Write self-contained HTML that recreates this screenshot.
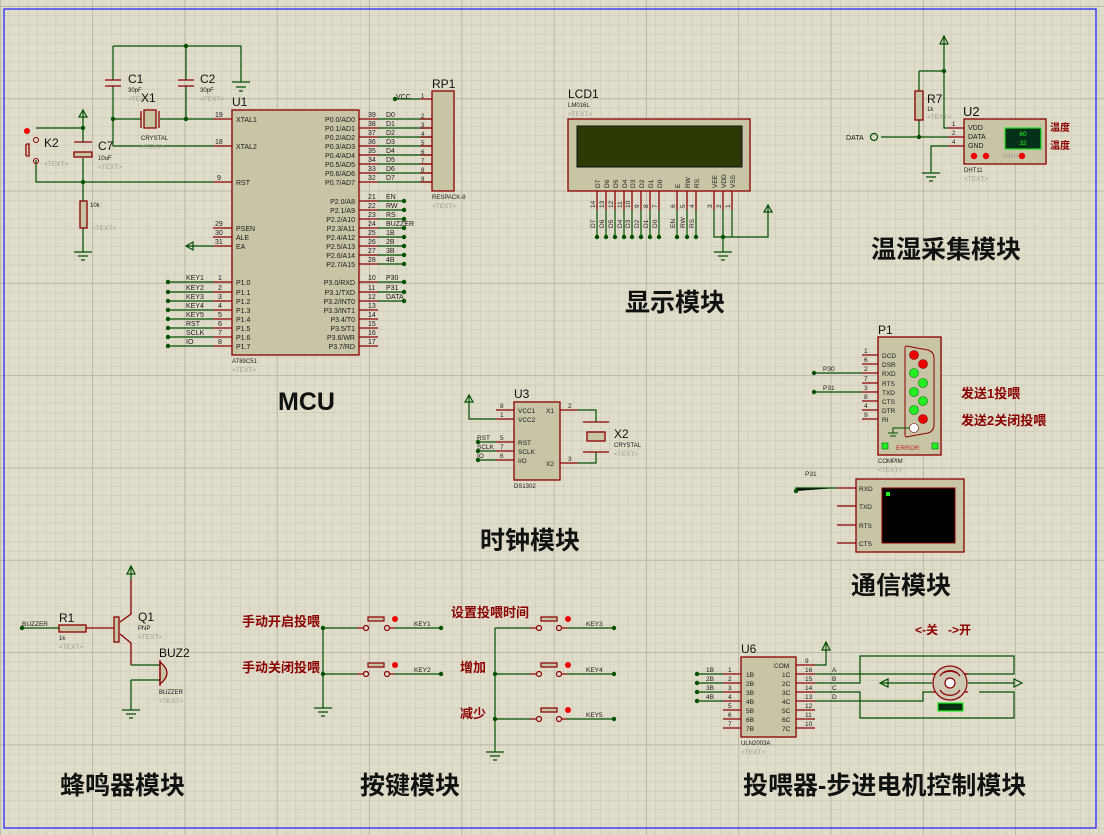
<!DOCTYPE html>
<html><head><meta charset="utf-8"><style>
html,body{margin:0;padding:0;background:#dfdcc9;}
svg{display:block}
.s{font-family:"Liberation Sans",sans-serif;font-size:7px;fill:#1a1a1a}
.t{font-family:"Liberation Sans",sans-serif;font-size:6.5px;fill:#a09e90}
.r{font-family:"Liberation Sans",sans-serif;font-size:12px;fill:#111}
.cn{font-family:"Liberation Sans","Noto Sans CJK SC",sans-serif;font-weight:bold;fill:#111;font-size:25px}
.rc{font-family:"Liberation Sans","Noto Sans CJK SC",sans-serif;font-weight:bold;fill:#8b0000;font-size:13px}
</style></head><body>
<svg width="1104" height="835" viewBox="0 0 1104 835" xmlns="http://www.w3.org/2000/svg">
<defs>
<pattern id="g" x="0.7" y="6.85" width="9.23" height="9.23" patternUnits="userSpaceOnUse"><path d="M9.23 0V9.23H0" fill="none" stroke="#c6c3b3" stroke-width="1"/></pattern>
<pattern id="G" x="0.7" y="6.85" width="92.3" height="92.3" patternUnits="userSpaceOnUse"><path d="M92.3 0V92.3H0" fill="none" stroke="#b3b0a2" stroke-width="1.5"/></pattern>
</defs>
<rect width="1104" height="835" fill="#dfdcc9"/>
<rect width="1104" height="835" fill="url(#g)"/>
<rect width="1104" height="835" fill="url(#G)"/>
<rect x="4" y="9" width="1092" height="819" fill="none" stroke="#1a1aff" stroke-width="1.2"/>

<!-- ===== MCU ===== -->
<g stroke="#005000" stroke-width="1.2" fill="none">
<path d="M113 46H241V82M113 46V80M113 86V146H213M186 46V80M186 86V119M113 119H141M160 119H213"/>
<path d="M36 128H83V110M83 128V142M83 158V201M36 160V182H213M83 228V252"/>
<path d="M186 246H213"/>
<path d="M395 99H420"/>
</g>
<g fill="#005000"><circle cx="186" cy="46" r="2.2"/><circle cx="113" cy="119" r="2.2"/><circle cx="186" cy="119" r="2.2"/><circle cx="83" cy="128" r="2.2"/><circle cx="83" cy="182" r="2.2"/><circle cx="395" cy="99" r="2.2"/></g>
<g stroke="#005000" stroke-width="1.2"><path d="M232 82H250M236 87H246M239 91H243M74 252H92M78 256H88M81 260H85"/></g>
<g stroke="#8b0000" stroke-width="1.3" fill="none">
<path d="M105 80H121M105 86H121M178 80H194M178 86H194"/>
<rect x="144" y="110" width="12" height="18" fill="#c8c4a6"/><path d="M141 111V128M159 111V128"/>
<rect x="80" y="201" width="7" height="27" fill="#c8c4a6"/>
<path d="M74 142H92"/><rect x="74" y="152" width="18" height="5" fill="#c8c4a6"/>
<path d="M26 144V156M26 144H29V156H26"/>
</g>
<circle cx="36" cy="140" r="2.5" fill="none" stroke="#8b0000"/><circle cx="36" cy="161" r="2.5" fill="none" stroke="#8b0000"/>
<circle cx="27" cy="131" r="3" fill="#e00"/>
<path d="M83 110L79 117H87Z M186 246L193 242V250Z" fill="none" stroke="#005000" stroke-width="1.2"/>
<text x="128" y="83" class="r">C1</text><text x="128" y="92" class="s" style="font-size:6px">30pF</text><text x="128" y="101" class="t">&lt;TEXT&gt;</text>
<text x="200" y="83" class="r">C2</text><text x="200" y="92" class="s" style="font-size:6px">30pF</text><text x="200" y="101" class="t">&lt;TEXT&gt;</text>
<text x="141" y="102" class="r">X1</text><text x="141" y="140" class="s" style="font-size:6px">CRYSTAL</text><text x="141" y="149" class="t">&lt;TEXT&gt;</text>
<text x="44" y="147" class="r">K2</text><text x="44" y="166" class="t">&lt;TEXT&gt;</text>
<text x="98" y="150" class="r">C7</text><text x="98" y="160" class="s" style="font-size:6px">10uF</text><text x="98" y="169" class="t">&lt;TEXT&gt;</text>
<text x="90" y="207" class="s" style="font-size:6px">10k</text><text x="92" y="230" class="t">&lt;TEXT&gt;</text>

<rect x="232" y="110" width="127" height="245" fill="#c8c4a6" stroke="#8b0000" stroke-width="1.3"/>
<text x="232" y="106" class="r">U1</text><text x="232" y="363" class="s" style="font-size:6px">AT89C51</text><text x="232" y="372" class="t">&lt;TEXT&gt;</text>
<g stroke="#8b0000" stroke-width="1.3">
<path d="M213 119H232M213 146H232M213 182H232M213 228H232M213 237H232M213 246H232"/>
<path d="M213 282H232M213 292H232M213 301H232M213 310H232M213 319H232M213 328H232M213 337H232M213 346H232"/>
<path d="M359 119H378M359 128H378M359 137H378M359 146H378M359 155H378M359 164H378M359 173H378M359 182H378"/>
<path d="M359 201H378M359 210H378M359 219H378M359 228H378M359 237H378M359 246H378M359 255H378M359 264H378"/>
<path d="M359 282H378M359 292H378M359 301H378M359 310H378M359 319H378M359 328H378M359 337H378M359 346H378"/>
</g>
<g class="s">
<text x="236" y="122">XTAL1</text><text x="236" y="149">XTAL2</text><text x="236" y="185">RST</text>
<text x="236" y="231">PSEN</text><text x="236" y="240">ALE</text><text x="236" y="249">EA</text>
<text x="236" y="285">P1.0</text><text x="236" y="295">P1.1</text><text x="236" y="304">P1.2</text><text x="236" y="313">P1.3</text><text x="236" y="322">P1.4</text><text x="236" y="331">P1.5</text><text x="236" y="340">P1.6</text><text x="236" y="349">P1.7</text>
<text x="215" y="117">19</text><text x="215" y="144">18</text><text x="217" y="180">9</text><text x="215" y="226">29</text><text x="215" y="235">30</text><text x="215" y="244">31</text>
<text x="218" y="280">1</text><text x="218" y="290">2</text><text x="218" y="299">3</text><text x="218" y="308">4</text><text x="218" y="317">5</text><text x="218" y="326">6</text><text x="218" y="335">7</text><text x="218" y="344">8</text>
</g>
<g class="s" text-anchor="end">
<text x="355" y="122">P0.0/AD0</text><text x="355" y="131">P0.1/AD1</text><text x="355" y="140">P0.2/AD2</text><text x="355" y="149">P0.3/AD3</text><text x="355" y="158">P0.4/AD4</text><text x="355" y="167">P0.5/AD5</text><text x="355" y="176">P0.6/AD6</text><text x="355" y="185">P0.7/AD7</text>
<text x="355" y="204">P2.0/A8</text><text x="355" y="213">P2.1/A9</text><text x="355" y="222">P2.2/A10</text><text x="355" y="231">P2.3/A11</text><text x="355" y="240">P2.4/A12</text><text x="355" y="249">P2.5/A13</text><text x="355" y="258">P2.6/A14</text><text x="355" y="267">P2.7/A15</text>
<text x="355" y="285">P3.0/RXD</text><text x="355" y="295">P3.1/TXD</text><text x="355" y="304">P3.2/INT0</text><text x="355" y="313">P3.3/INT1</text><text x="355" y="322">P3.4/T0</text><text x="355" y="331">P3.5/T1</text><text x="355" y="340">P3.6/WR</text><text x="355" y="349">P3.7/RD</text>
</g>
<g class="s">
<text x="368" y="117">39</text><text x="368" y="126">38</text><text x="368" y="135">37</text><text x="368" y="144">36</text><text x="368" y="153">35</text><text x="368" y="162">34</text><text x="368" y="171">33</text><text x="368" y="180">32</text>
<text x="368" y="199">21</text><text x="368" y="208">22</text><text x="368" y="217">23</text><text x="368" y="226">24</text><text x="368" y="235">25</text><text x="368" y="244">26</text><text x="368" y="253">27</text><text x="368" y="262">28</text>
<text x="368" y="280">10</text><text x="368" y="290">11</text><text x="368" y="299">12</text><text x="368" y="308">13</text><text x="368" y="317">14</text><text x="368" y="326">15</text><text x="368" y="335">16</text><text x="368" y="344">17</text>
<text x="386" y="117">D0</text><text x="386" y="126">D1</text><text x="386" y="135">D2</text><text x="386" y="144">D3</text><text x="386" y="153">D4</text><text x="386" y="162">D5</text><text x="386" y="171">D6</text><text x="386" y="180">D7</text>
<text x="386" y="199">EN</text><text x="386" y="208">RW</text><text x="386" y="217">RS</text><text x="386" y="226">BUZZER</text><text x="386" y="235">1B</text><text x="386" y="244">2B</text><text x="386" y="253">3B</text><text x="386" y="262">4B</text>
<text x="386" y="280">P30</text><text x="386" y="290">P31</text><text x="386" y="299">DATA</text>
<text x="186" y="280">KEY1</text><text x="186" y="290">KEY2</text><text x="186" y="299">KEY3</text><text x="186" y="308">KEY4</text><text x="186" y="317">KEY5</text><text x="186" y="326">RST</text><text x="186" y="335">SCLK</text><text x="186" y="344">IO</text>
<text x="396" y="99">VCC</text>
</g>
<g stroke="#005000" stroke-width="1.2">
<path d="M378 119H432M378 128H432M378 137H432M378 146H432M378 155H432M378 164H432M378 173H432M378 182H432"/>
<path d="M378 201H404M378 210H404M378 219H404M378 228H404M378 237H404M378 246H404M378 255H404M378 264H404M378 282H404M378 292H404M378 301H404"/>
<path d="M168 282H213M168 292H213M168 301H213M168 310H213M168 319H213M168 328H213M168 337H213M168 346H213"/>
</g>
<g fill="#005000">
<circle cx="404" cy="201" r="2.2"/><circle cx="404" cy="210" r="2.2"/><circle cx="404" cy="219" r="2.2"/><circle cx="404" cy="228" r="2.2"/><circle cx="404" cy="237" r="2.2"/><circle cx="404" cy="246" r="2.2"/><circle cx="404" cy="255" r="2.2"/><circle cx="404" cy="264" r="2.2"/><circle cx="404" cy="282" r="2.2"/><circle cx="404" cy="292" r="2.2"/><circle cx="404" cy="301" r="2.2"/>
<circle cx="168" cy="282" r="2.2"/><circle cx="168" cy="292" r="2.2"/><circle cx="168" cy="301" r="2.2"/><circle cx="168" cy="310" r="2.2"/><circle cx="168" cy="319" r="2.2"/><circle cx="168" cy="328" r="2.2"/><circle cx="168" cy="337" r="2.2"/><circle cx="168" cy="346" r="2.2"/>
</g>
<g stroke="#8b0000" stroke-width="1.3"><path d="M420 99H432M420 119H432M420 128H432M420 137H432M420 146H432M420 155H432M420 164H432M420 173H432M420 182H432"/></g>
<rect x="432" y="91" width="22" height="100" fill="#c8c4a6" stroke="#8b0000" stroke-width="1.3"/>
<text x="432" y="88" class="r">RP1</text><text x="432" y="199" class="s" style="font-size:6px">RESPACK-8</text><text x="432" y="208" class="t">&lt;TEXT&gt;</text>
<g class="s" style="font-size:6px"><text x="421" y="98">1</text><text x="421" y="118">2</text><text x="421" y="127">3</text><text x="421" y="136">4</text><text x="421" y="145">5</text><text x="421" y="154">6</text><text x="421" y="163">7</text><text x="421" y="172">8</text><text x="421" y="181">9</text></g>
<text x="278" y="410" class="cn" style="font-size:25px">MCU</text>

<!-- ===== LCD ===== -->
<rect x="568" y="119" width="182" height="72" fill="#c8c4a6" stroke="#8b0000" stroke-width="1.3"/>
<rect x="577" y="126" width="165" height="41" fill="#2c3a05" stroke="#111" stroke-width="1"/>
<text x="568" y="98" class="r">LCD1</text><text x="568" y="107" class="s" style="font-size:6px">LM016L</text><text x="568" y="116" class="t">&lt;TEXT&gt;</text>
<g stroke="#8b0000" stroke-width="1.3"><path d="M597 191V210M606 191V210M615 191V210M624 191V210M632 191V210M641 191V210M650 191V210M659 191V210M677 191V210M687 191V210M696 191V210M714 191V210M723 191V210M732 191V210"/></g>
<g stroke="#005000" stroke-width="1.2" fill="none"><path d="M597 210V237M606 210V237M615 210V237M624 210V237M632 210V237M641 210V237M650 210V237M659 210V237M677 210V237M687 210V237M696 210V237M714 210V237H768V205M723 210V252M732 210V237"/><path d="M768 205L764 212H772Z"/><path d="M714 252H732M718 256H728M721 260H725"/></g>
<g fill="#005000"><circle cx="597" cy="237" r="2.2"/><circle cx="606" cy="237" r="2.2"/><circle cx="615" cy="237" r="2.2"/><circle cx="624" cy="237" r="2.2"/><circle cx="632" cy="237" r="2.2"/><circle cx="641" cy="237" r="2.2"/><circle cx="650" cy="237" r="2.2"/><circle cx="659" cy="237" r="2.2"/><circle cx="677" cy="237" r="2.2"/><circle cx="687" cy="237" r="2.2"/><circle cx="696" cy="237" r="2.2"/><circle cx="723" cy="237" r="2.2"/></g>
<g class="s" style="font-size:6.5px">
<text transform="translate(600,188) rotate(-90)">D7</text><text transform="translate(609,188) rotate(-90)">D6</text><text transform="translate(618,188) rotate(-90)">D5</text><text transform="translate(627,188) rotate(-90)">D4</text><text transform="translate(635,188) rotate(-90)">D3</text><text transform="translate(644,188) rotate(-90)">D2</text><text transform="translate(653,188) rotate(-90)">D1</text><text transform="translate(662,188) rotate(-90)">D0</text><text transform="translate(680,188) rotate(-90)">E</text><text transform="translate(690,188) rotate(-90)">RW</text><text transform="translate(699,188) rotate(-90)">RS</text><text transform="translate(717,188) rotate(-90)">VEE</text><text transform="translate(726,188) rotate(-90)">VDD</text><text transform="translate(735,188) rotate(-90)">VSS</text>
<text transform="translate(595,208) rotate(-90)">14</text><text transform="translate(604,208) rotate(-90)">13</text><text transform="translate(613,208) rotate(-90)">12</text><text transform="translate(622,208) rotate(-90)">11</text><text transform="translate(630,208) rotate(-90)">10</text><text transform="translate(639,208) rotate(-90)">9</text><text transform="translate(648,208) rotate(-90)">8</text><text transform="translate(657,208) rotate(-90)">7</text><text transform="translate(675,208) rotate(-90)">6</text><text transform="translate(685,208) rotate(-90)">5</text><text transform="translate(694,208) rotate(-90)">4</text><text transform="translate(712,208) rotate(-90)">3</text><text transform="translate(721,208) rotate(-90)">2</text><text transform="translate(730,208) rotate(-90)">1</text>
<text transform="translate(595,228) rotate(-90)">D7</text><text transform="translate(604,228) rotate(-90)">D6</text><text transform="translate(613,228) rotate(-90)">D5</text><text transform="translate(622,228) rotate(-90)">D4</text><text transform="translate(630,228) rotate(-90)">D3</text><text transform="translate(639,228) rotate(-90)">D2</text><text transform="translate(648,228) rotate(-90)">D1</text><text transform="translate(657,228) rotate(-90)">D0</text><text transform="translate(675,228) rotate(-90)">EN</text><text transform="translate(685,228) rotate(-90)">RW</text><text transform="translate(694,228) rotate(-90)">RS</text>
</g>
<text x="625" y="311" class="cn">显示模块</text>

<!-- ===== DHT11 ===== -->
<g stroke="#005000" stroke-width="1.2" fill="none">
<path d="M944 36V128H948M919 71H944M919 71V91M919 120V137M881 137H948M948 146H931V173M922 173H940M926 177H936M929 181H933"/>
<path d="M944 36L940 44H948Z"/>
</g>
<circle cx="944" cy="71" r="2.2" fill="#005000"/><circle cx="919" cy="137" r="2.2" fill="#005000"/>
<circle cx="874" cy="137" r="3.5" fill="none" stroke="#005000" stroke-width="1.2"/>
<text x="846" y="140" class="s">DATA</text>
<rect x="915" y="91" width="8" height="29" fill="#c8c4a6" stroke="#8b0000" stroke-width="1.3"/>
<text x="927" y="103" class="r">R7</text><text x="927" y="111" class="s" style="font-size:6px">1k</text><text x="927" y="119" class="t">&lt;TEXT&gt;</text>
<g stroke="#8b0000" stroke-width="1.3"><path d="M948 128H964M948 137H964M948 146H964"/></g>
<rect x="964" y="119" width="82" height="45" fill="#c8c4a6" stroke="#8b0000" stroke-width="1.3"/>
<rect x="1005" y="128" width="36" height="21" fill="#04301a" stroke="#22dd22" stroke-width="1.2"/>
<text x="1023" y="136" class="s" text-anchor="middle" style="fill:#2f2;font-size:6.5px">60</text><text x="1023" y="145" class="s" text-anchor="middle" style="fill:#2f2;font-size:6.5px">32</text>
<text x="968" y="130" class="s">VDD</text><text x="968" y="139" class="s">DATA</text><text x="968" y="148" class="s">GND</text>
<text x="952" y="126" class="s" style="font-size:6px">1</text><text x="952" y="135" class="s" style="font-size:6px">2</text><text x="952" y="144" class="s" style="font-size:6px">4</text>
<circle cx="974" cy="156" r="3.2" fill="#e00"/><circle cx="986" cy="156" r="3.2" fill="#e00"/><circle cx="1022" cy="156" r="3.2" fill="#e00"/>
<text x="1003" y="158" class="t">%RH</text>
<text x="964" y="172" class="s" style="font-size:6px">DHT11</text><text x="964" y="181" class="t">&lt;TEXT&gt;</text>
<text x="963" y="116" class="r" style="font-size:13px">U2</text>
<text x="1050" y="131" class="rc" style="font-size:10px">温度</text><text x="1050" y="149" class="rc" style="font-size:10px">温度</text>
<text x="871" y="258" class="cn">温湿采集模块</text>

<!-- ===== COMPIM ===== -->
<text x="878" y="334" class="r">P1</text>
<g stroke="#8b0000" stroke-width="1.3"><path d="M862 355H878M862 364H878M862 373H878M862 383H878M862 392H878M862 401H878M862 410H878M862 419H878"/></g>
<g stroke="#005000" stroke-width="1.2"><path d="M814 373H862M814 392H862"/></g>
<circle cx="814" cy="373" r="2.2" fill="#005000"/><circle cx="814" cy="392" r="2.2" fill="#005000"/>
<text x="823" y="371" class="s" style="font-size:6.5px">P30</text><text x="823" y="390" class="s" style="font-size:6.5px">P31</text>
<rect x="878" y="337" width="63" height="118" fill="#c8c4a6" stroke="#8b0000" stroke-width="1.3"/>
<path d="M906 346L928 350Q934 352 934 358V425Q934 431 928 433L906 437Q905 437 905 434V349Q905 346 906 346Z" fill="none" stroke="#8b0000" stroke-width="1"/>
<g class="s" style="font-size:6.5px"><text x="882" y="358">DCD</text><text x="882" y="367">DSR</text><text x="882" y="376">RXD</text><text x="882" y="386">RTS</text><text x="882" y="395">TXD</text><text x="882" y="404">CTS</text><text x="882" y="413">DTR</text><text x="882" y="422">RI</text>
<text x="864" y="353">1</text><text x="864" y="362">6</text><text x="864" y="371">2</text><text x="864" y="381">7</text><text x="864" y="390">3</text><text x="864" y="399">8</text><text x="864" y="408">4</text><text x="864" y="417">9</text></g>
<circle cx="914" cy="355" r="4.5" fill="#e00" stroke="#700" stroke-width=".6"/><circle cx="923" cy="364" r="4.5" fill="#e00" stroke="#700" stroke-width=".6"/>
<circle cx="914" cy="373" r="4.5" fill="#2e2" stroke="#070" stroke-width=".6"/><circle cx="923" cy="383" r="4.5" fill="#2e2" stroke="#070" stroke-width=".6"/>
<circle cx="914" cy="392" r="4.5" fill="#2e2" stroke="#070" stroke-width=".6"/><circle cx="923" cy="401" r="4.5" fill="#2e2" stroke="#070" stroke-width=".6"/>
<circle cx="914" cy="410" r="4.5" fill="#2e2" stroke="#070" stroke-width=".6"/><circle cx="923" cy="419" r="4.5" fill="#e00" stroke="#700" stroke-width=".6"/>
<circle cx="914" cy="428" r="4.5" fill="#fff" stroke="#700" stroke-width=".6"/>
<path d="M910 428H893V433M888 433H898M890 436H896" stroke="#005000" fill="none"/>
<rect x="882" y="443" width="6" height="6" fill="#2e2" stroke="#070" stroke-width=".6"/><rect x="932" y="443" width="6" height="6" fill="#2e2" stroke="#070" stroke-width=".6"/>
<text x="896" y="450" class="s" style="fill:#b22;font-size:6.5px">ERROR</text>
<text x="878" y="463" class="s" style="font-size:6px">COMPIM</text><text x="878" y="472" class="t">&lt;TEXT&gt;</text>
<text x="961" y="398" class="rc">发送1投喂</text><text x="961" y="425" class="rc">发送2关闭投喂</text>

<!-- ===== Virtual terminal ===== -->
<text x="805" y="476" class="s" style="font-size:6.5px">P31</text>
<g stroke="#005000" stroke-width="1.2"><path d="M796 491V488H837"/></g><circle cx="796" cy="491" r="2.2" fill="#005000"/>
<g stroke="#8b0000" stroke-width="1.3"><path d="M837 488H856M837 506H856M837 525H856M837 543H856"/></g>
<rect x="856" y="479" width="108" height="73" fill="#c8c4a6" stroke="#8b0000" stroke-width="1.3"/>
<rect x="882" y="488" width="73" height="55" fill="#000" stroke="#8b0000" stroke-width="1"/>
<rect x="886" y="492" width="4" height="4" fill="#2e2"/>
<g class="s" style="font-size:6.5px"><text x="859" y="491">RXD</text><text x="859" y="509">TXD</text><text x="859" y="528">RTS</text><text x="859" y="546">CTS</text></g>
<text x="851" y="594" class="cn">通信模块</text>

<!-- ===== DS1302 ===== -->
<text x="514" y="398" class="r">U3</text>
<g stroke="#005000" stroke-width="1.2" fill="none"><path d="M469 395V419H496M469 395L465 402H473Z M478 442H496M478 451H496M478 460H496 M578 410H596V422M578 463H596V452"/></g>
<circle cx="478" cy="442" r="2.2" fill="#005000"/><circle cx="478" cy="451" r="2.2" fill="#005000"/><circle cx="478" cy="460" r="2.2" fill="#005000"/>
<g stroke="#8b0000" stroke-width="1.3"><path d="M496 410H514M496 419H514M496 442H514M496 451H514M496 460H514M560 410H578M560 463H578M583 422H609M583 452H609"/></g>
<rect x="587" y="432" width="18" height="9" fill="#c8c4a6" stroke="#8b0000" stroke-width="1.3"/>
<rect x="514" y="402" width="46" height="78" fill="#c8c4a6" stroke="#8b0000" stroke-width="1.3"/>
<g class="s" style="font-size:6.5px"><text x="518" y="413">VCC1</text><text x="518" y="422">VCC2</text><text x="518" y="445">RST</text><text x="518" y="454">SCLK</text><text x="518" y="463">I/O</text><text x="546" y="413">X1</text><text x="546" y="466">X2</text>
<text x="500" y="408">8</text><text x="500" y="417">1</text><text x="500" y="440">5</text><text x="500" y="449">7</text><text x="500" y="458">6</text><text x="568" y="408">2</text><text x="568" y="461">3</text>
<text x="477" y="440">RST</text><text x="477" y="449">SCLK</text><text x="477" y="458">IO</text></g>
<text x="514" y="488" class="s" style="font-size:6px">DS1302</text>
<text x="614" y="438" class="r">X2</text><text x="614" y="447" class="s" style="font-size:6px">CRYSTAL</text><text x="614" y="456" class="t">&lt;TEXT&gt;</text>
<text x="480" y="549" class="cn">时钟模块</text>

<!-- ===== Buzzer ===== -->
<g stroke="#005000" stroke-width="1.2" fill="none"><path d="M22 628H59M131 566V580M131 566L127 574H135Z M131 665H160M131 680H160M131 680V710M122 710H140M126 714H136M129 718H133"/></g>
<circle cx="22" cy="628" r="2.2" fill="#005000"/>
<text x="22" y="626" class="s" style="font-size:6.5px">BUZZER</text>
<g stroke="#8b0000" stroke-width="1.3" fill="none"><path d="M86 628H114M120 622L131 614V580M120 634L131 643V665"/><rect x="59" y="625" width="27" height="7" fill="#c8c4a6"/><rect x="114" y="617" width="5" height="25" fill="#c8c4a6"/><path d="M160 662V684Q174 673 160 662Z" fill="#c8c4a6"/><path d="M160 660V686"/></g>
<text x="59" y="622" class="r">R1</text><text x="59" y="640" class="s" style="font-size:6px">1k</text><text x="59" y="649" class="t">&lt;TEXT&gt;</text>
<text x="138" y="621" class="r">Q1</text><text x="138" y="630" class="s" style="font-size:6px">PNP</text><text x="138" y="639" class="t">&lt;TEXT&gt;</text>
<text x="159" y="657" class="r">BUZ2</text><text x="159" y="694" class="s" style="font-size:6px">BUZZER</text><text x="159" y="703" class="t">&lt;TEXT&gt;</text>
<text x="60" y="794" class="cn">蜂鸣器模块</text>

<!-- ===== Keys ===== -->
<g stroke="#005000" stroke-width="1.2" fill="none">
<path d="M323 628V708M314 708H332M318 712H328M321 716H325 M323 628H357M395 628H441M323 674H357M395 674H441"/>
<path d="M495 628V752M486 752H504M490 756H500M493 760H497 M495 628H530M567 628H614M495 674H530M567 674H614M495 719H530M567 719H614"/>
</g>
<g fill="#005000"><circle cx="323" cy="628" r="2.2"/><circle cx="323" cy="674" r="2.2"/><circle cx="441" cy="628" r="2.2"/><circle cx="441" cy="674" r="2.2"/><circle cx="495" cy="674" r="2.2"/><circle cx="495" cy="719" r="2.2"/><circle cx="614" cy="628" r="2.2"/><circle cx="614" cy="674" r="2.2"/><circle cx="614" cy="719" r="2.2"/></g>
<g stroke="#8b0000" stroke-width="1.2" fill="#c8c4a6">
<path d="M357 628H363M389 628H395M357 674H363M389 674H395M530 628H536M561 628H567M530 674H536M561 674H567M530 719H536M561 719H567" fill="none"/>
<circle cx="366" cy="628" r="2.5" fill="none"/><circle cx="387" cy="628" r="2.5" fill="none"/><path d="M368 621V617H384V621Z"/>
<circle cx="366" cy="674" r="2.5" fill="none"/><circle cx="387" cy="674" r="2.5" fill="none"/><path d="M368 667V663H384V667Z"/>
<circle cx="539" cy="628" r="2.5" fill="none"/><circle cx="559" cy="628" r="2.5" fill="none"/><path d="M541 621V617H557V621Z"/>
<circle cx="539" cy="674" r="2.5" fill="none"/><circle cx="559" cy="674" r="2.5" fill="none"/><path d="M541 667V663H557V667Z"/>
<circle cx="539" cy="719" r="2.5" fill="none"/><circle cx="559" cy="719" r="2.5" fill="none"/><path d="M541 712V708H557V712Z"/>
</g>
<g fill="#e00"><circle cx="395" cy="619" r="3"/><circle cx="395" cy="665" r="3"/><circle cx="568" cy="619" r="3"/><circle cx="568" cy="665" r="3"/><circle cx="568" cy="710" r="3"/></g>
<g class="s" style="font-size:6.5px"><text x="414" y="626">KEY1</text><text x="414" y="672">KEY2</text><text x="586" y="626">KEY3</text><text x="586" y="672">KEY4</text><text x="586" y="717">KEY5</text></g>
<text x="242" y="626" class="rc">手动开启投喂</text><text x="242" y="672" class="rc">手动关闭投喂</text>
<text x="451" y="617" class="rc">设置投喂时间</text><text x="460" y="672" class="rc">增加</text><text x="460" y="718" class="rc">减少</text>
<text x="360" y="794" class="cn">按键模块</text>

<!-- ===== ULN2003 / Stepper ===== -->
<text x="741" y="653" class="r">U6</text>
<g stroke="#8b0000" stroke-width="1.3"><path d="M723 674H741M723 683H741M723 692H741M723 701H741M723 710H741M723 719H741M723 728H741M796 665H815M796 674H815M796 683H815M796 692H815M796 701H815M796 710H815M796 719H815M796 728H815"/></g>
<g stroke="#005000" stroke-width="1.2" fill="none">
<path d="M697 674H723M697 683H723M697 692H723M697 701H723 M815 665H826V642M826 642L822 650H830Z"/>
<path d="M815 674H1014V656H860V683H815 M815 692H860V718H1014V692H979 M815 701H923V692H932 M880 683H932 M968 683H1014"/>
<path d="M880 683L888 679V687Z M1022 683L1014 679V687Z"/>
</g>
<g fill="#005000"><circle cx="697" cy="674" r="2.2"/><circle cx="697" cy="683" r="2.2"/><circle cx="697" cy="692" r="2.2"/><circle cx="697" cy="701" r="2.2"/></g>
<rect x="741" y="657" width="55" height="80" fill="#c8c4a6" stroke="#8b0000" stroke-width="1.3"/>
<g class="s" style="font-size:6.5px">
<text x="746" y="677">1B</text><text x="746" y="686">2B</text><text x="746" y="695">3B</text><text x="746" y="704">4B</text><text x="746" y="713">5B</text><text x="746" y="722">6B</text><text x="746" y="731">7B</text>
<text x="774" y="668">COM</text><text x="782" y="677">1C</text><text x="782" y="686">2C</text><text x="782" y="695">3C</text><text x="782" y="704">4C</text><text x="782" y="713">5C</text><text x="782" y="722">6C</text><text x="782" y="731">7C</text>
<text x="706" y="672">1B</text><text x="706" y="681">2B</text><text x="706" y="690">3B</text><text x="706" y="699">4B</text>
<text x="728" y="672">1</text><text x="728" y="681">2</text><text x="728" y="690">3</text><text x="728" y="699">4</text><text x="728" y="708">5</text><text x="728" y="717">6</text><text x="728" y="726">7</text>
<text x="805" y="663">9</text><text x="805" y="672">16</text><text x="805" y="681">15</text><text x="805" y="690">14</text><text x="805" y="699">13</text><text x="805" y="708">12</text><text x="805" y="717">11</text><text x="805" y="726">10</text>
<text x="832" y="672">A</text><text x="832" y="681">B</text><text x="832" y="690">C</text><text x="832" y="699">D</text>
</g>
<text x="741" y="745" class="s" style="font-size:6px">ULN2003A</text><text x="741" y="754" class="t">&lt;TEXT&gt;</text>
<g stroke="#8b0000" stroke-width="1.2" fill="none"><path d="M932 674H968M932 692H968"/><circle cx="950" cy="683" r="17" fill="#cdc9b5"/><circle cx="950" cy="683" r="5" fill="#fff"/><path d="M940 676A12 12 0 0 1 960 676M940 690A12 12 0 0 0 960 690M943 673A15 15 0 0 1 957 673"/></g>
<rect x="938" y="703" width="25" height="8" fill="#043010" stroke="#2e2" stroke-width="1.2"/>
<text x="915" y="634" class="rc" style="font-size:12px">&lt;-关 &#160;&#160;-&gt;开</text>
<text x="743" y="794" class="cn">投喂器-步进电机控制模块</text>
</svg>
</body></html>
